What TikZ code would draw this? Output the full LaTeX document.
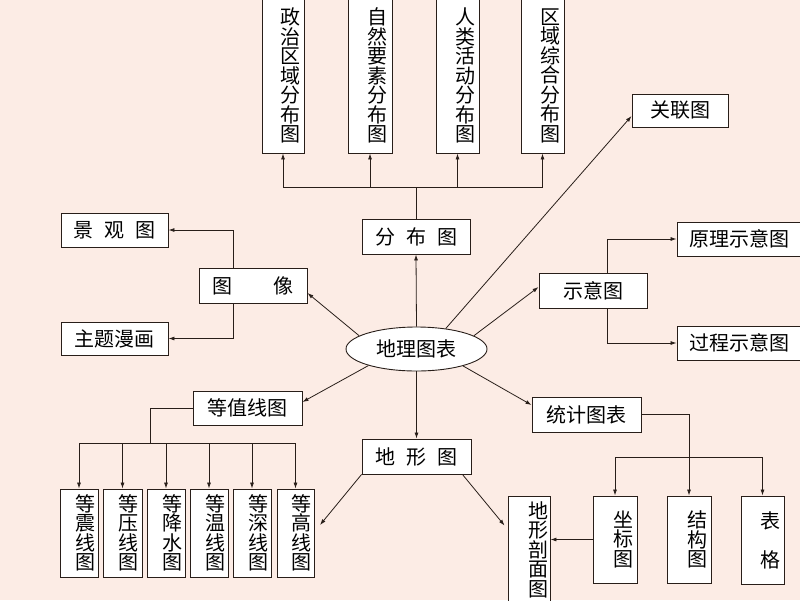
\documentclass[tikz,border=0pt]{standalone}
\usepackage{fontspec}
\newfontfamily\cjk{Noto Sans CJK SC}
\usetikzlibrary{arrows.meta,shapes.geometric}
\definecolor{bgc}{RGB}{252,236,229}
\definecolor{ln}{RGB}{40,30,25}
\newcommand\vt[2]{\hspace*{#1}\vbox{\hsize=20pt\parindent=0pt\centering\baselineskip=19.5pt\lineskiplimit=-30pt\lineskip=0pt #2\par}}
\begin{document}
\begin{tikzpicture}[x=1pt,y=-1pt,
  every node/.style={font=\cjk\fontsize{20}{19.5}\selectfont, text=black},
  bx/.style={draw=ln, fill=white, line width=0.9pt, inner sep=0pt},
  con/.style={draw=ln, line width=0.8pt},
  >={Latex[length=6pt,width=4pt]}]
\path[use as bounding box, fill=bgc] (0,0) rectangle (800,600);

% top distribution boxes
\node[bx, minimum width=42pt, minimum height=155pt] (b1) at (283,75.5) {\vt{14pt}{政\\治\\区\\域\\分\\布\\图}};
\node[bx, minimum width=44pt, minimum height=155pt] (b2) at (370,75.5) {\vt{14pt}{自\\然\\要\\素\\分\\布\\图}};
\node[bx, minimum width=43pt, minimum height=155pt] (b3) at (457.5,75.5) {\vt{16pt}{人\\类\\活\\动\\分\\布\\图}};
\node[bx, minimum width=43pt, minimum height=155pt] (b4) at (542.5,75.5) {\vt{16pt}{区\\域\\综\\合\\分\\布\\图}};

\node[bx, minimum width=108pt, minimum height=35pt] (fb) at (416,236.5) {分\hspace{11pt}布\hspace{11pt}图};
\node[bx, minimum width=96pt, minimum height=33pt] (gl) at (680,110.5) {关联图};
\node[bx, minimum width=108pt, minimum height=35pt] (tx) at (253,285.5) {图\hspace{41pt}像};
\node[bx, minimum width=107pt, minimum height=34pt] (jg) at (114.5,230) {景\hspace{11pt}观\hspace{11pt}图};
\node[bx, minimum width=107pt, minimum height=33pt] (zt) at (114.5,338.5) {主题漫画};
\node[bx, minimum width=108pt, minimum height=35pt] (sy) at (593,290.5) {示意图};
\node[bx, minimum width=125pt, minimum height=34pt] (yl) at (739.5,239) {原理示意图};
\node[bx, minimum width=125pt, minimum height=34pt] (gc) at (739.5,343) {过程示意图};

\node[ellipse, draw=ln, fill=white, line width=0.9pt, inner sep=0pt,
      minimum width=141pt, minimum height=44pt] (ell) at (416.5,349) {地理图表};

\node[bx, minimum width=109pt, minimum height=34pt] (dz) at (247.5,408) {等值线图};
\node[bx, minimum width=109pt, minimum height=35pt] (dx) at (416.5,456.5) {地\hspace{11pt}形\hspace{11pt}图};
\node[bx, minimum width=109pt, minimum height=35pt] (tj) at (586.5,414.5) {统计图表};

% isoline boxes
\node[bx, minimum width=38pt, minimum height=88pt] (d1) at (79,533) {\vt{12pt}{等\\震\\线\\图}};
\node[bx, minimum width=39pt, minimum height=88pt] (d2) at (122.5,533) {\vt{12pt}{等\\压\\线\\图}};
\node[bx, minimum width=38pt, minimum height=88pt] (d3) at (166,533) {\vt{12pt}{等\\降\\水\\图}};
\node[bx, minimum width=38pt, minimum height=88pt] (d4) at (209,533) {\vt{12pt}{等\\温\\线\\图}};
\node[bx, minimum width=38pt, minimum height=88pt] (d5) at (252,533) {\vt{12pt}{等\\深\\线\\图}};
\node[bx, minimum width=37pt, minimum height=88pt] (d6) at (295.5,533) {\vt{12pt}{等\\高\\线\\图}};

% statistic / terrain boxes
\node[bx, minimum width=42pt, minimum height=107pt] (pm) at (529,549.5) {\vt{18pt}{地\\形\\剖\\面\\图}};
\node[bx, minimum width=44pt, minimum height=87pt] (zb) at (615,539.5) {\vt{16pt}{坐\\标\\图}};
\node[bx, minimum width=44pt, minimum height=87pt] (jgt) at (689,539.5) {\vt{16pt}{结\\构\\图}};
\node[bx, minimum width=43pt, minimum height=88pt] (bg) at (762.5,540) {\vt{15pt}{表\\\mbox{}\\格}};

% helper coordinates
\coordinate (tbar) at (416,187);
\coordinate (dbar) at (150,443);
\coordinate (sbar) at (616,457);
\coordinate (p1) at (320,525);

% distribution branch
\draw[con] (fb.north) -- (tbar);
\draw[con,<->] (b1.south) -- (b1.south |- tbar) -- (b4.south |- tbar) -- (b4.south);
\draw[con,->] (b2.south |- tbar) -- (b2.south);
\draw[con,->] (b3.south |- tbar) -- (b3.south);

% from centre ellipse
\draw[con,->] (ell.north) -- (fb.south);
\draw[con,->] (ell.south) -- (dx.north);
\draw[con,->] (ell.167) -- ([yshift=-7.5pt]tx.east);
\draw[con,->] (ell.199) -- ([yshift=6pt]dz.east);
\draw[con,->] (ell.340) -- ([yshift=9.5pt]tj.west);
\draw[con,->] (ell.13) -- ([yshift=3.5pt]sy.west);
\draw[con,->] (ell.35) -- ([yshift=-5.5pt]gl.west);

% image branch
\draw[con,->] ([xshift=-20pt]tx.north) |- (jg.east);
\draw[con,->] ([xshift=-20pt]tx.south) |- (zt.east);

% sketch branch
\draw[con,->] ([xshift=14pt]sy.north) |- (yl.west);
\draw[con,->] ([xshift=14pt]sy.south) |- (gc.west);

% isoline branch
\draw[con] (dz.west) -| (dbar);
\draw[con,<->] (d1.north) -- (d1.north |- dbar) -- (d6.north |- dbar) -- (d6.north);
\draw[con,->] (d2.north |- dbar) -- (d2.north);
\draw[con,->] (d3.north |- dbar) -- (d3.north);
\draw[con,->] (d4.north |- dbar) -- (d4.north);
\draw[con,->] (d5.north |- dbar) -- (d5.north);

% terrain branch
\draw[con,->] (dx.south west) -- (p1);
\draw[con,->] ([xshift=-9pt]dx.south east) -- ([xshift=-3pt,yshift=-30pt]pm.north west);

% statistics branch
\draw[con,->] (tj.east) -| (jgt.north);
\draw[con,<->] (zb.north) -- (zb.north |- sbar) -- (bg.north |- sbar) -- (bg.north);
\draw[con,->] (zb.west) -- (pm.east |- zb.west);
\end{tikzpicture}
\end{document}
